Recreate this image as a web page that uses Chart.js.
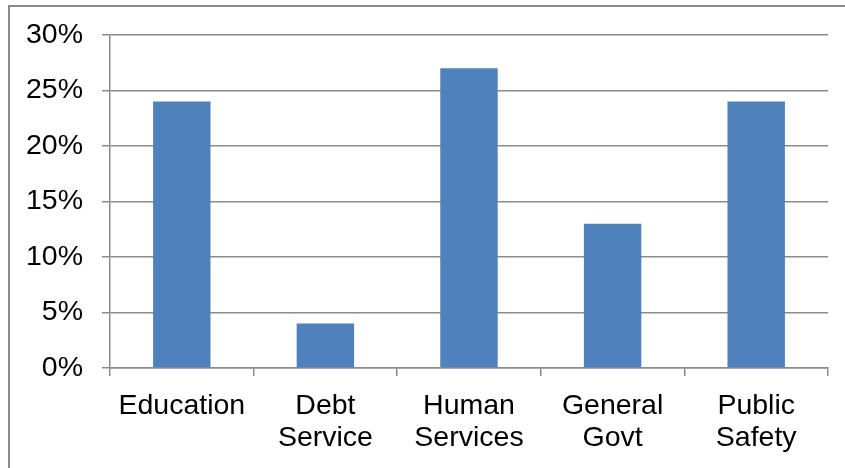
<!DOCTYPE html>
<html>
<head>
<meta charset="utf-8">
<script src="https://cdn.jsdelivr.net/npm/chart.js@4"></script>
<style>
    html, body { margin: 0; padding: 0; background: #fff; }
    #wrap { position: relative; width: 845px; height: 468px; }
</style>
</head>
<body>
<div id="wrap"><canvas id="spending_chart"></canvas></div>
<script>
// Chart data
var categories = [["Education"], ["Debt", "Service"], ["Human", "Services"], ["General", "Govt"], ["Public", "Safety"]];
var shares = [24, 4, 27, 13, 24];
var yTicks = [0, 5, 10, 15, 20, 25, 30];

// Draws the outer frame (only the left and top edges show in the picture)
var framePlugin = {
    id: 'frame',
    afterDraw: function (chart)
    {
        var ctx = chart.ctx;
        ctx.save();
        ctx.strokeStyle = '#8a8a8a';
        ctx.lineWidth = 2;
        ctx.beginPath();
        ctx.moveTo(9, 468);
        ctx.lineTo(9, 6);
        ctx.lineTo(845, 6);
        ctx.stroke();
        ctx.restore();
    }
};

var axisGrey = '#8c8c8c';
var tickFont = { family: "'Liberation Sans', Arial, sans-serif", size: 28.5, lineHeight: 1.12 };

new Chart(document.getElementById('spending_chart').getContext('2d'),
{
    type: 'bar',
    data: {
        labels: categories,
        datasets: [{
            data: shares,
            backgroundColor: '#4F81BD',
            borderWidth: 0,
            barPercentage: 0.4,
            categoryPercentage: 1
        }]
    },
    options: {
        responsive: true,
        maintainAspectRatio: false,
        animation: false,
        layout: { padding: { left: 0, right: 17, top: 35, bottom: 0 } },
        plugins: {
            legend: { display: false },
            tooltip: { enabled: false }
        },
        scales: {
            x: {
                grid: {
                    offset: true,
                    drawOnChartArea: false,
                    drawTicks: true,
                    tickLength: 8,
                    color: axisGrey,
                    lineWidth: 1.5
                },
                border: { display: true, color: axisGrey, width: 1.5 },
                ticks: {
                    color: '#000',
                    font: tickFont,
                    padding: 14,
                    maxRotation: 0,
                    autoSkip: false
                },
                afterFit: function (scale) { scale.height = 100; }
            },
            y: {
                min: 0,
                max: 30,
                afterBuildTicks: function (scale)
                {
                    scale.ticks = yTicks.map(function (v) { return { value: v }; });
                },
                grid: {
                    color: axisGrey,
                    lineWidth: 1.5,
                    drawTicks: true,
                    tickLength: 8
                },
                border: { display: true, color: axisGrey, width: 1.5 },
                ticks: {
                    color: '#000',
                    font: tickFont,
                    padding: 19,
                    callback: function (v) { return v + '%'; }
                },
                afterFit: function (scale) { scale.width = 110; }
            }
        }
    },
    plugins: [framePlugin]
});
</script>
</body>
</html>
